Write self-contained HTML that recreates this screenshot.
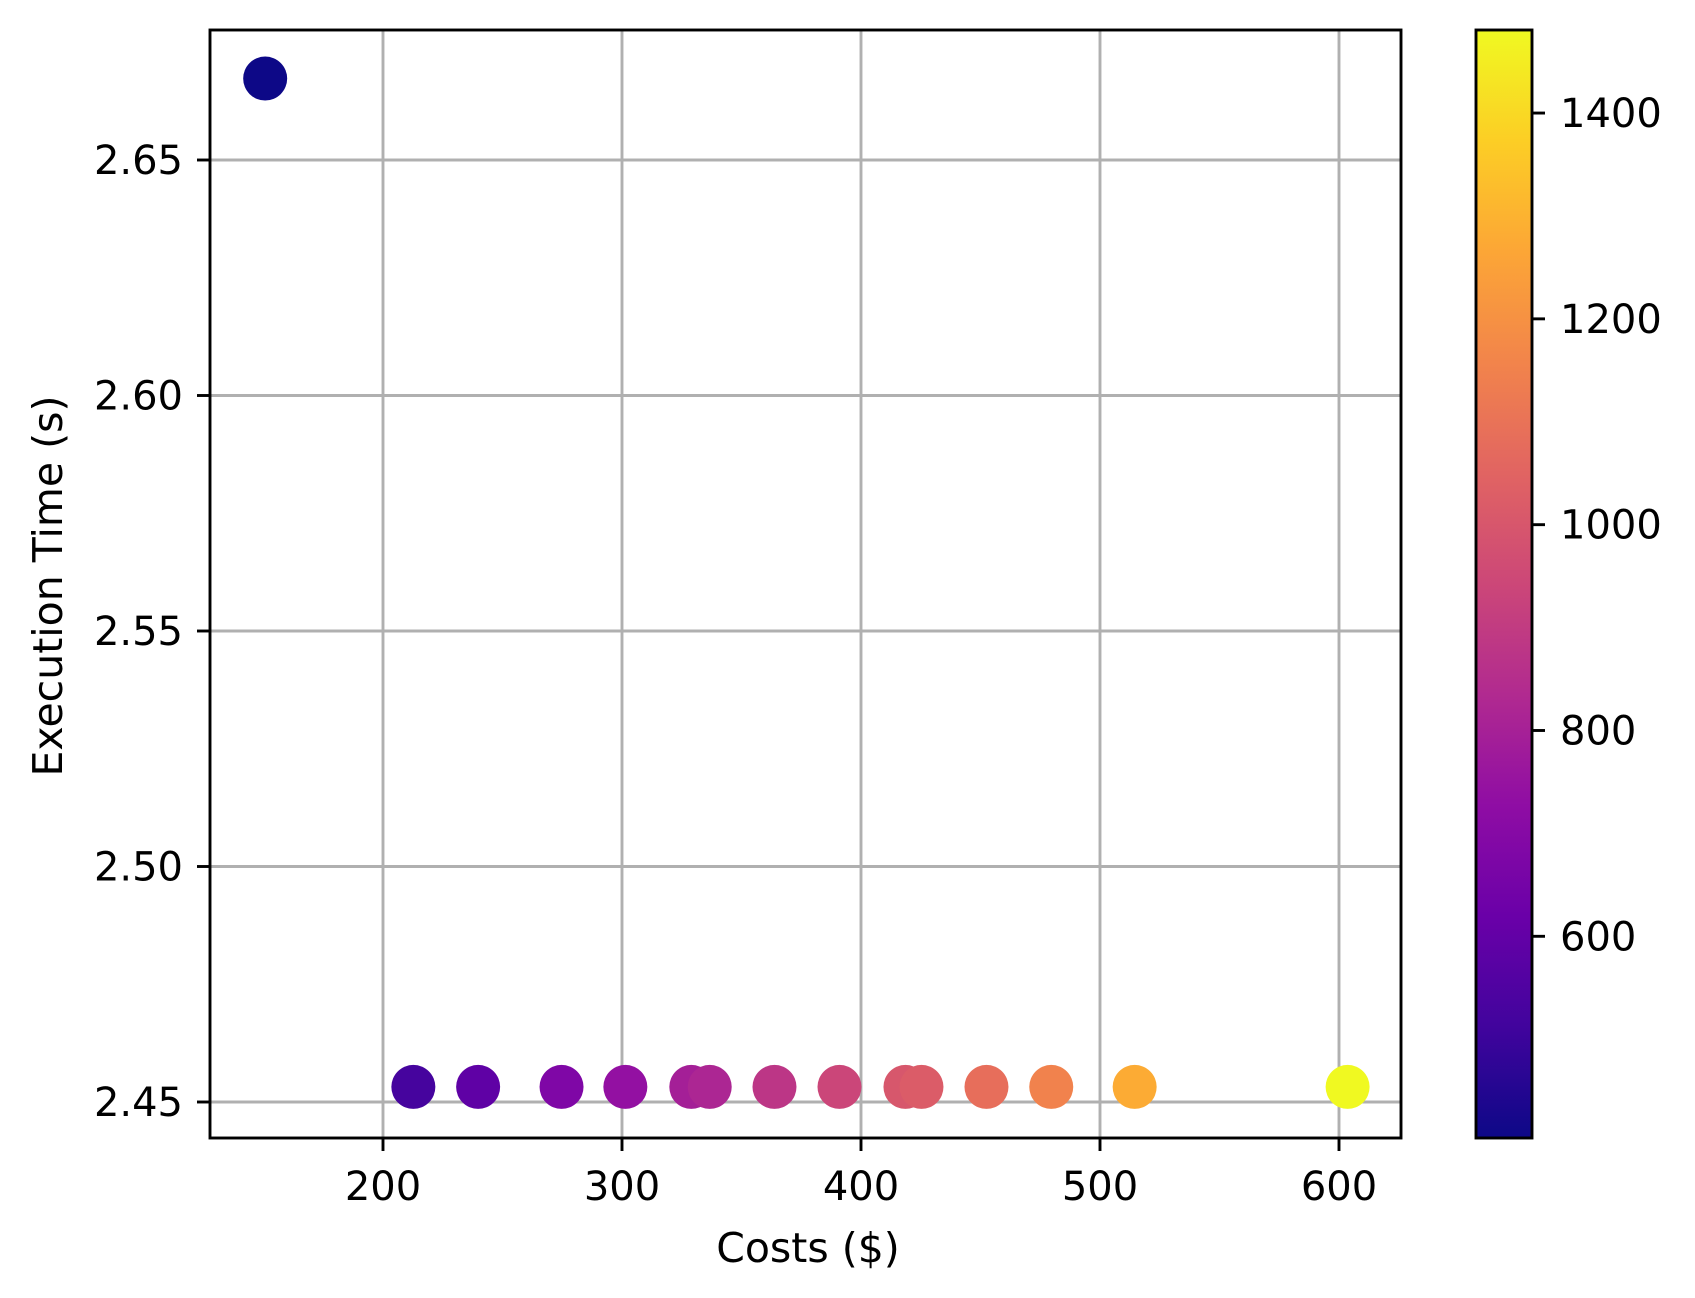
<!DOCTYPE html>
<html><head><meta charset="utf-8"><style>
html,body{margin:0;padding:0;background:#fff;}
svg{display:block;font-family:"DejaVu Sans","Liberation Sans",sans-serif;}
</style></head><body>
<svg id="chart" width="1695" height="1298" viewBox="0 0 1695 1298">
<defs>
<linearGradient id="plasma" x1="0" y1="1" x2="0" y2="0">
<stop offset="0" stop-color="#0d0887"/><stop offset="0.1" stop-color="#41049d"/><stop offset="0.2" stop-color="#6a00a8"/><stop offset="0.3" stop-color="#8f0da4"/><stop offset="0.4" stop-color="#b12a90"/><stop offset="0.5" stop-color="#cc4778"/><stop offset="0.6" stop-color="#e16462"/><stop offset="0.7" stop-color="#f2844b"/><stop offset="0.8" stop-color="#fca636"/><stop offset="0.9" stop-color="#fcce25"/><stop offset="1" stop-color="#f0f921"/>
</linearGradient>
</defs>
<g id="grid"></g>
<g id="points"></g>
<rect x="210" y="30" width="1191" height="1108" fill="none" stroke="#000" stroke-width="2.9"/>
<g id="axes"></g>
<rect x="1476" y="30" width="56" height="1108" fill="url(#plasma)" stroke="#000" stroke-width="2.9"/>
<g id="cbticks"></g>
<text x="808" y="1262" font-size="41" text-anchor="middle">Costs ($)</text>
<text transform="translate(62,586) rotate(-90)" font-size="41" text-anchor="middle">Execution Time (s)</text>
</svg>
<script>
const costs = [150.7, 212.7, 239.8, 274.7, 301.4, 329, 336.7, 363.8, 391, 418.6, 425.3, 452.5, 479.6, 514.5, 603.6];
const times = [2.6673, 2.4532, 2.4532, 2.4532, 2.4532, 2.4532, 2.4532, 2.4532, 2.4532, 2.4532, 2.4532, 2.4532, 2.4532, 2.4532, 2.4532];
const colorValues = [404, 525, 590, 680, 740, 795, 820, 880, 940, 1000, 1020, 1085, 1150, 1280, 1480];
const xTicks = [200, 300, 400, 500, 600];
const yTicks = [2.45, 2.50, 2.55, 2.60, 2.65];
const yTickLabels = ["2.45", "2.50", "2.55", "2.60", "2.65"];
const cTicks = [600, 800, 1000, 1200, 1400];

const NS = "http://www.w3.org/2000/svg";
const X = v => 383 + (v - 200) * 2.39;
const Y = v => 1102 - (v - 2.45) / 0.05 * 235.5;
const cMin = 404, cMax = 1480.7;
const C = v => 1138 - (v - cMin) / (cMax - cMin) * 1108;
const stops = ["#0d0887","#41049d","#6a00a8","#8f0da4","#b12a90","#cc4778","#e16462","#f2844b","#fca636","#fcce25","#f0f921"];
function hex(h){return [1,3,5].map(i=>parseInt(h.substr(i,2),16));}
function plasma(t){t=Math.max(0,Math.min(1,t));const f=t*10;const i=Math.min(9,Math.floor(f));const r=f-i;const a=hex(stops[i]),b=hex(stops[i+1]);return "rgb("+a.map((c,k)=>Math.round(c+(b[k]-c)*r)).join(",")+")";}
function mk(tag, attrs, parent){const e=document.createElementNS(NS,tag);for(const k in attrs)e.setAttribute(k,attrs[k]);parent.appendChild(e);return e;}

const grid=document.getElementById("grid"), axes=document.getElementById("axes"), pts=document.getElementById("points"), cb=document.getElementById("cbticks");
xTicks.forEach(v=>{
  const g=mk("line",{x1:X(v),x2:X(v),y1:30,y2:1138,stroke:"#b0b0b0","stroke-width":2.9},grid);
  
  
  const t=mk("line",{x1:X(v),x2:X(v),y1:1138,y2:1151,stroke:"#000","stroke-width":2.9},axes);
  
  
  const l=mk("text",{x:X(v),y:1200,"font-size":40,"text-anchor":"middle"},axes);
  l.textContent=v;
  
  
});
yTicks.forEach((v,i)=>{
  const g=mk("line",{x1:210,x2:1401,y1:Y(v),y2:Y(v),stroke:"#b0b0b0","stroke-width":2.9},grid);
  
  
  const t=mk("line",{x1:197,x2:210,y1:Y(v),y2:Y(v),stroke:"#000","stroke-width":2.9},axes);
  
  
  const l=mk("text",{x:183,y:Y(v)+14,"font-size":40,"text-anchor":"end"},axes);
  l.textContent=yTickLabels[i];
  
  
});
costs.forEach((c,i)=>{
  const p=mk("circle",{cx:X(c),cy:Y(times[i]),r:22,fill:plasma((colorValues[i]-cMin)/(cMax-cMin))},pts);
  
  
});
cTicks.forEach(v=>{
  const t=mk("line",{x1:1532,x2:1545,y1:C(v),y2:C(v),stroke:"#000","stroke-width":2.9},cb);
  
  
  const l=mk("text",{x:1560,y:C(v)+14,"font-size":40},cb);
  l.textContent=v;
  
  
});
</script>
</body></html>
